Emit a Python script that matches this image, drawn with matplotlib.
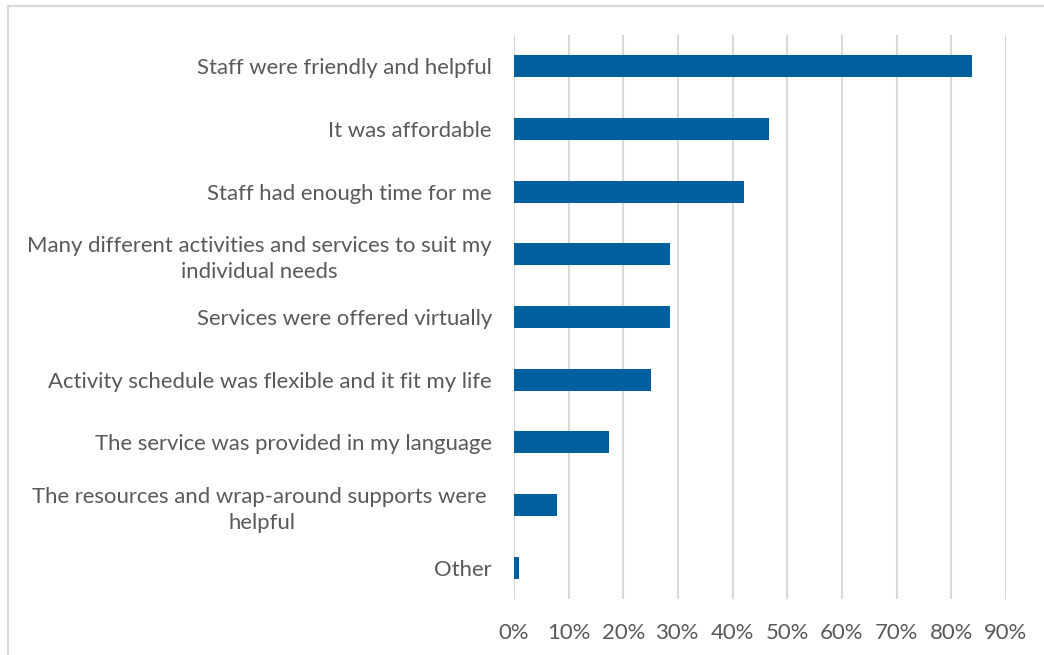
import matplotlib
matplotlib.use("Agg")
from matplotlib import pyplot as plt
from matplotlib.lines import Line2D

# reasons given, top to bottom, share of respondents
reasons = [
    "Staff were friendly and helpful",
    "It was affordable",
    "Staff had enough time for me",
    "Many different activities and services to suit my\nindividual needs",
    "Services were offered virtually",
    "Activity schedule was flexible and it fit my life",
    "The service was provided in my language",
    "The resources and wrap-around supports were \nhelpful",
    "Other",
]
shares = [0.837, 0.467, 0.420, 0.286, 0.285, 0.250, 0.174, 0.079, 0.010]
ticks = [i / 10 for i in range(10)]
tick_labels = [f"{i * 10}%" for i in range(10)]

BLUE = "#005f9e"
GREY_TEXT = "#595959"
GRID = "#d9d9d9"

plt.rcParams["font.family"] = ["Lato", "DejaVu Sans"]

W, H = 1044, 655
fig = plt.figure(figsize=(W / 100, H / 100), dpi=100)
ax = fig.add_axes([514 / W, 1 - 599 / H, (1006 - 514) / W, (599 - 35) / H])

pos = list(range(len(reasons)))
ax.barh(pos, shares, height=0.355, color=BLUE, zorder=3)
ax.set_ylim(len(reasons) - 0.5, -0.5)
ax.set_xlim(0, 0.9)

ax.set_xticks(ticks)
ax.set_xticklabels(tick_labels)
ax.set_yticks(pos)
ax.set_yticklabels(reasons, multialignment="center", linespacing=1.35)
ax.tick_params(axis="both", length=0, labelsize=15.9, colors=GREY_TEXT)
ax.tick_params(axis="y", pad=16)
ax.tick_params(axis="x", pad=17)

ax.grid(axis="x", color=GRID, linewidth=1.5, zorder=0)
for s in ax.spines.values():
    s.set_visible(False)

# chart frame: top and left edges only, the rest runs off the image
fig.add_artist(Line2D([8 / W, 1], [1 - 6 / H, 1 - 6 / H], color=GRID, lw=1.5))
fig.add_artist(Line2D([8 / W, 8 / W], [0, 1 - 6 / H], color=GRID, lw=1.5))

fig.savefig("out.png", dpi=100)
